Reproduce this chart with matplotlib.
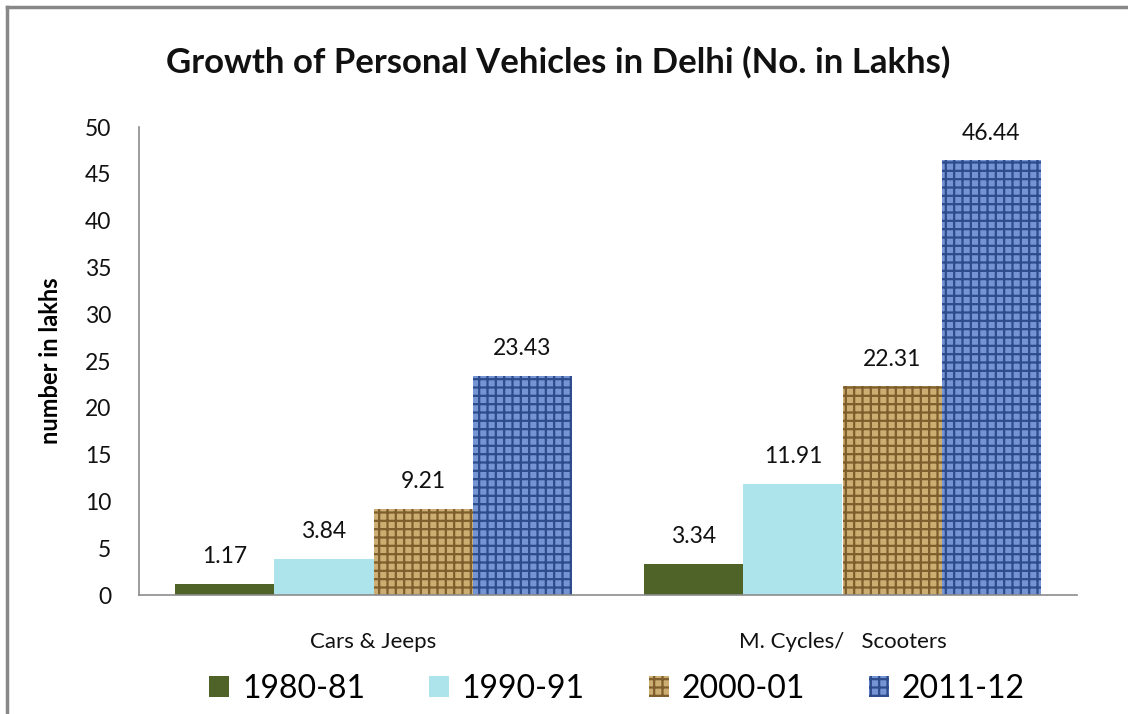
import matplotlib
matplotlib.use("Agg")
import matplotlib.pyplot as plt
import numpy as np
from matplotlib.lines import Line2D

categories = ["Cars & Jeeps", "M. Cycles/   Scooters"]
series_names = ["1980-81", "1990-91", "2000-01", "2011-12"]
values_1980 = [1.17, 3.34]
values_1990 = [3.84, 11.91]
values_2000 = [9.21, 22.31]
values_2011 = [23.43, 46.44]
series_values = [values_1980, values_1990, values_2000, values_2011]
y_ticks = [0, 5, 10, 15, 20, 25, 30, 35, 40, 45, 50]

face_colors = ["#4F6228", "#ADE3EA", "#CDAE72", "#7494D3"]
hatch_colors = ["#4F6228", "#8CCFDA", "#7D5E2C", "#2E4C8C"]
hatches = [None, None, "++", "++"]

plt.rcParams["font.family"] = ["Lato", "DejaVu Sans"]
plt.rcParams["hatch.linewidth"] = 1.6

W, H = 1128, 714
fig = plt.figure(figsize=(W/100, H/100), dpi=100)
ax_l, ax_r, ax_t, ax_b = 139, 1077, 127, 595
ax = fig.add_axes([ax_l/W, 1-ax_b/H, (ax_r-ax_l)/W, (ax_b-ax_t)/H])

x = np.arange(len(categories))
n = len(series_names)
width = 0.846 / n
for i, (name, vals) in enumerate(zip(series_names, series_values)):
    pos = x + (i - (n-1)/2) * width
    bars = ax.bar(pos, vals, width, color=face_colors[i], edgecolor=hatch_colors[i],
                  linewidth=0, hatch=hatches[i], label=name)
    for b, v in zip(bars, vals):
        ax.annotate(f"{v:.2f}", (b.get_x() + b.get_width()/2, v),
                    xytext=(0, 12), textcoords="offset points",
                    ha="center", va="bottom", fontsize=16.5, color="#111111")

ax.set_xlim(-0.5, 1.5)
ax.set_ylim(0, 50)
ax.set_yticks(y_ticks)
ax.set_xticks(x)
ax.set_xticklabels(categories)
ax.tick_params(axis="y", length=0, pad=20, labelsize=16.5, labelcolor="#111111")
ax.tick_params(axis="x", length=0, pad=27, labelsize=16, labelcolor="#111111")
for s in ["top", "right"]:
    ax.spines[s].set_visible(False)
for s in ["left", "bottom"]:
    ax.spines[s].set_color("#8C8C8C")
    ax.spines[s].set_linewidth(1.2)

ax.set_ylabel("number in lakhs", fontsize=17, fontweight="bold")
ax.yaxis.set_label_coords((62-ax_l)/(ax_r-ax_l), 0.5)

fig.text(558/W, 1-62/H, "Growth of Personal Vehicles in Delhi (No. in Lakhs)",
         ha="center", va="center", fontsize=25, fontweight="bold", color="#111111")

leg = ax.legend(loc="center", bbox_to_anchor=(617/W, 1-689/H),
                bbox_transform=fig.transFigure, ncol=4, frameon=False,
                fontsize=23, handlelength=0.63, handleheight=0.63,
                handletextpad=0.4, columnspacing=2.0, borderpad=0)

# chart frame border lines
fig.add_artist(Line2D([7/W, 7/W], [0, 1-7/H], transform=fig.transFigure,
                      color="#888888", linewidth=2.5))
fig.add_artist(Line2D([7/W, 1], [1-7/H, 1-7/H], transform=fig.transFigure,
                      color="#888888", linewidth=2.5))

fig.savefig("out.png", dpi=100)
